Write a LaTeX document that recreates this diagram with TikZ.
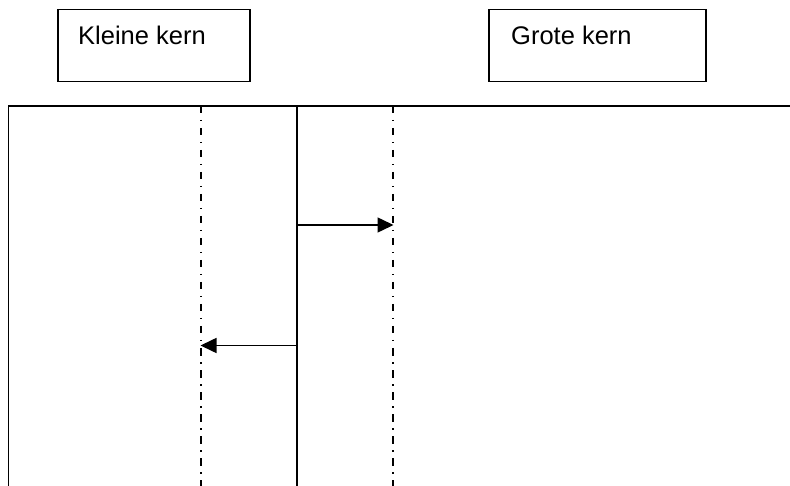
\documentclass[tikz,border=0pt]{standalone}
\usepackage{fontspec}
\setmainfont{Liberation Sans}
\usetikzlibrary{arrows.meta}
\begin{document}
\begin{tikzpicture}[x=1pt,y=-1pt,
  box/.style={draw,line width=1.5pt,minimum width=#1,minimum height=72pt,inner sep=0pt,anchor=north west},
  lbl/.style={anchor=base west,inner sep=0pt,font=\fontsize{25.5}{30}\selectfont},
  solidline/.style={line width=1.8pt},
  dashdot/.style={line width=1.8pt,dash pattern=on 7.5pt off 6.5pt on 1.5pt off 6.5pt},
  msg/.style={line width=1.5pt,-{Triangle[length=16pt,width=15pt]},shorten >=-0.5pt}]
\useasboundingbox (0,0) rectangle (790,486);
% header boxes
\node[box=192pt] (kbox) at (57,9) {};
\node[lbl] (ktext) at (78,45) {Kleine kern};
\node[box=217pt] (gbox) at (488,9) {};
\node[lbl] (gtext) at (511,45) {Grote kern};
% frame
\coordinate (tl) at (8.5,106);
\coordinate (tr) at (790,106);
\coordinate (bl) at (8.5,486);
\draw[solidline] (bl) -- (tl) -- (tr);
% lifelines
\coordinate (k1) at (201,106);
\coordinate (k2) at (201,486);
\coordinate (m1) at (297,106);
\coordinate (m2) at (297,486);
\coordinate (g1) at (393,106);
\coordinate (g2) at (393,486);
\draw[dashdot] (k1) -- (k2);
\draw[dashdot] (g1) -- (g2);
\draw[solidline] (m1) -- (m2);
% messages
\coordinate (a1s) at (297,225);
\coordinate (a1e) at (393,225);
\coordinate (a2s) at (297,345.5);
\coordinate (a2e) at (201,345.5);
\draw[msg] (a1s) -- (a1e);
\draw[msg] (a2s) -- (a2e);
\end{tikzpicture}
\end{document}
